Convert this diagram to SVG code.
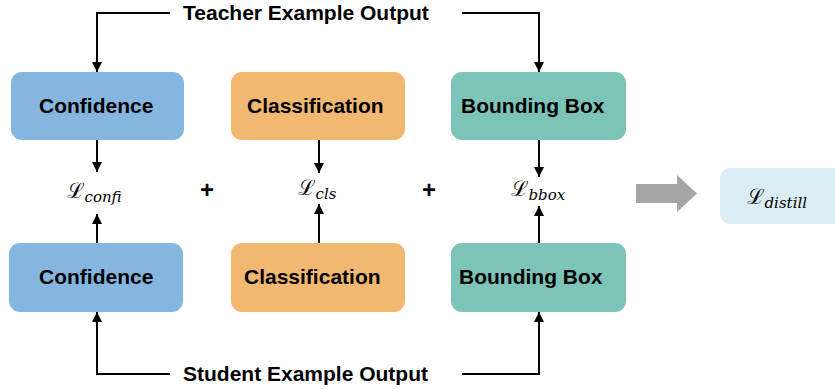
<svg xmlns="http://www.w3.org/2000/svg" width="835" height="390" viewBox="0 0 835 390">
<defs>
<style>
.box{stroke:none}
.lbl{font-family:"Liberation Sans",Arial,sans-serif;font-weight:bold;font-size:21px;fill:#000}
.ttl{font-family:"Liberation Sans",Arial,sans-serif;font-weight:bold;font-size:21px;fill:#000}
.ln{fill:none;stroke:#000;stroke-width:2}
.L{font-family:"DejaVu Serif","Noto Sans",serif;font-size:21px;fill:#000}
.sub{font-family:"DejaVu Serif",serif;font-style:italic;font-size:15px;fill:#000}
.plus{font-family:"Liberation Sans",Arial,sans-serif;font-weight:bold;font-size:24px;fill:#000}
</style>
<marker id="ah" viewBox="0 0 10 10" refX="10" refY="5" markerWidth="5" markerHeight="5" orient="auto" markerUnits="strokeWidth">
<path d="M0,0 L10,5 L0,10 z" fill="#000"/>
</marker>
</defs>
<rect width="835" height="390" fill="#fff"/>

<g id="teacher"><text class="ttl" x="183" y="20">Teacher Example Output</text></g>
<g id="student"><text class="ttl" x="183" y="381">Student Example Output</text></g>

<g id="t-conf"><rect class="box" x="11" y="72" width="173" height="68" rx="11" fill="#84B6E0"/><text class="lbl" x="39" y="113">Confidence</text></g>
<g id="t-cls"><rect class="box" x="231" y="72" width="174" height="68" rx="11" fill="#F1B872"/><text class="lbl" x="247" y="113">Classification</text></g>
<g id="t-bbox"><rect class="box" x="451" y="72" width="175" height="68" rx="11" fill="#7BC4B7"/><text class="lbl" x="461" y="113">Bounding Box</text></g>

<g id="s-conf"><rect class="box" x="9" y="243" width="174" height="69" rx="11" fill="#84B6E0"/><text class="lbl" x="39" y="284">Confidence</text></g>
<g id="s-cls"><rect class="box" x="231" y="243" width="174" height="69" rx="11" fill="#F1B872"/><text class="lbl" x="244" y="284">Classification</text></g>
<g id="s-bbox"><rect class="box" x="451" y="243" width="175" height="69" rx="11" fill="#7BC4B7"/><text class="lbl" x="459" y="284">Bounding Box</text></g>

<g id="l-confi"><text x="67" y="198"><tspan class="L">ℒ</tspan><tspan class="sub" dy="4">confi</tspan></text></g>
<g id="l-cls"><text x="298" y="195"><tspan class="L">ℒ</tspan><tspan class="sub" dy="4">cls</tspan></text></g>
<g id="l-bbox"><text x="511" y="196"><tspan class="L">ℒ</tspan><tspan class="sub" dy="4">bbox</tspan></text></g>

<g id="plus1"><text class="plus" x="207" y="198" text-anchor="middle">+</text></g>
<g id="plus2"><text class="plus" x="429" y="198" text-anchor="middle">+</text></g>

<g id="distill"><rect x="720" y="168" width="130" height="56" rx="10" fill="#DAEDF4"/><text x="747" y="204"><tspan class="L" font-size="26px">ℒ</tspan><tspan class="sub" font-size="19px" dy="4">distill</tspan></text></g>

<g id="connectors">
<path class="ln" d="M170,13 H97 V72" marker-end="url(#ah)"/>
<path class="ln" d="M462,13 H539 V72" marker-end="url(#ah)"/>
<path class="ln" d="M170,374 H97 V312" marker-end="url(#ah)"/>
<path class="ln" d="M462,374 H539 V312" marker-end="url(#ah)"/>
<path class="ln" d="M97,140 V172" marker-end="url(#ah)"/>
<path class="ln" d="M319,140 V173" marker-end="url(#ah)"/>
<path class="ln" d="M539,140 V177" marker-end="url(#ah)"/>
<path class="ln" d="M97,243 V214" marker-end="url(#ah)"/>
<path class="ln" d="M319,243 V204" marker-end="url(#ah)"/>
<path class="ln" d="M539,243 V206" marker-end="url(#ah)"/>
<path d="M636,184 H677 V175 L697,193.5 L677,212 V203 H636 z" fill="#A6A6A6"/>
</g>
</svg>
